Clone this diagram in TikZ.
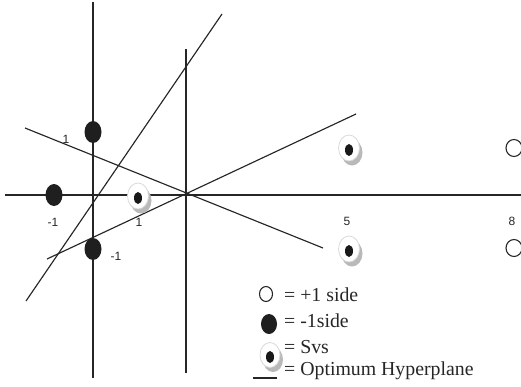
\documentclass[tikz,border=0pt]{standalone}
\usepackage{fontspec}
\setmainfont{Liberation Serif}
\newfontfamily\lblfont{Liberation Sans}
\usetikzlibrary{shapes.geometric,shadows}
\begin{document}
\begin{tikzpicture}[x=1pt,y=-1pt,
  axisline/.style={line width=1.7pt, draw=black!85},
  hyperline/.style={line width=1.15pt, draw=black!85},
  negpt/.style={ellipse, fill=black!88, minimum width=17pt, minimum height=22pt, inner sep=0pt},
  pospt/.style={ellipse, draw=black!85, line width=1.1pt, minimum width=16pt, minimum height=17pt, inner sep=0pt},
  svpt/.style={ellipse, fill=white, draw=gray!30, line width=0.8pt, minimum width=21pt, minimum height=26pt, inner sep=0pt,
     drop shadow={shadow xshift=3pt, shadow yshift=-4.5pt, fill=gray!55, opacity=1},
     path picture={\fill[black!90] ([yshift=-2pt]path picture bounding box.center) ellipse (4pt and 6pt);}},
  numlbl/.style={font=\lblfont\fontsize{12}{12}\selectfont, text=black!85, inner sep=0pt},
  legtxt/.style={font=\fontsize{19.8}{20}\selectfont, text=black!85, anchor=west, inner sep=0pt}]
\useasboundingbox (0,0) rectangle (521,386);
\clip (0,0) rectangle (521,386);
% axes
\coordinate (v1t) at (93,2);
\coordinate (v1b) at (93,378);
\coordinate (v2t) at (186,49);
\coordinate (v2b) at (186,373);
\coordinate (hl) at (5,195);
\coordinate (hr) at (521,195);
\draw[axisline] (v1t) -- (v1b);
\draw[axisline] (v2t) -- (v2b);
\draw[axisline] (hl) -- (hr);
% hyperplanes
\coordinate (a1) at (222,14);
\coordinate (a2) at (26,301);
\coordinate (b1) at (25,128);
\coordinate (b2) at (323,248);
\coordinate (c1) at (47,259);
\coordinate (c2) at (356,114);
\draw[hyperline] (a1) -- (a2);
\draw[hyperline] (b1) -- (b2);
\draw[hyperline] (c1) -- (c2);
% points
\node[negpt] (n1) at (93,132) {};
\node[negpt] (n2) at (54,195) {};
\node[negpt] (n3) at (93,249) {};
\node[svpt] (s1) at (138,196) {};
\node[svpt] (s2) at (349,148) {};
\node[svpt] (s3) at (349,249) {};
\node[pospt] (p1) at (514,148) {};
\node[pospt] (p2) at (514,248) {};
% labels
\node[numlbl] (l1) at (66,139) {1};
\node[numlbl] (l2) at (53,222) {-1};
\node[numlbl] (l3) at (139,222) {1};
\node[numlbl] (l4) at (116,256) {-1};
\node[numlbl] (l5) at (347,221) {5};
\node[numlbl] (l8) at (512,221) {8};
% legend
\node[pospt, minimum width=13pt, minimum height=15pt] (gp) at (266,294) {};
\node[negpt, minimum width=16pt, minimum height=20pt] (gn) at (269,324) {};
\node[svpt, minimum width=20pt, minimum height=25pt] (gs) at (270,355) {};
\coordinate (gl1) at (253,378);
\coordinate (gl2) at (277,378);
\draw[line width=1.5pt, black!85] (gl1) -- (gl2);
\node[legtxt] (t1) at (284,295) {= +1 side};
\node[legtxt] (t2) at (284,321) {= -1side};
\node[legtxt] (t3) at (284,347) {= Svs};
\node[legtxt] (t4) at (284,371) {= Optimum Hyperplane};
\end{tikzpicture}
\end{document}
